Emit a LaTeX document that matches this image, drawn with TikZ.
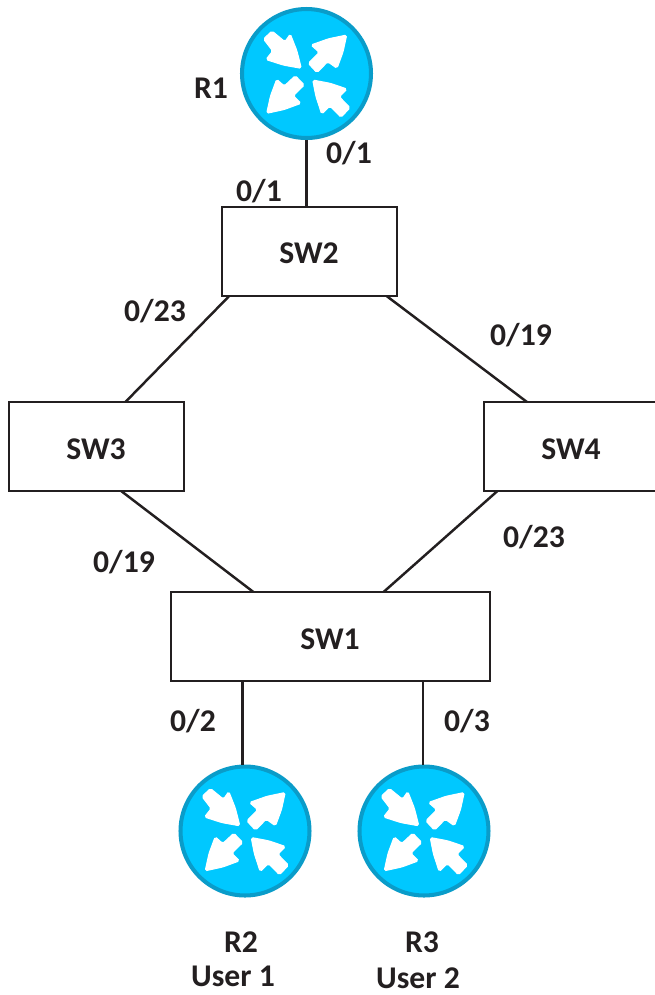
\documentclass[tikz,border=0pt]{standalone}
\usepackage{fontspec}
\setmainfont{Carlito}
\usepackage{xcolor}
\definecolor{routerfill}{HTML}{00C8FF}
\definecolor{routerline}{HTML}{0A9CC9}
\definecolor{labeltext}{HTML}{231F20}
\tikzset{
  switchbox/.style={draw=labeltext, line width=1.4pt, fill=white, inner sep=0pt, outer sep=0pt, minimum height=1.78cm},
  routernode/.style={circle, draw=routerline, fill=routerfill, line width=2.3pt, minimum size=2.58cm, inner sep=0pt, outer sep=1pt},
  portlabel/.style={font=\fontsize{18}{20}\bfseries, text=labeltext, inner sep=0pt},
  link/.style={draw=labeltext, line width=1.4pt},
  routerarrow/.style={fill=white, draw=white, line width=0.6pt, rounded corners=1pt},
  routericon/.pic={
    \filldraw[routerarrow] (-5.2,-5.2) -- (-9.6,-22.7) -- (-16.2,-39.5) -- (-21.5,-31.8) -- (-34.5,-42.5) -- (-43,-34.5) -- (-33.8,-22.5) -- (-40.5,-14) -- (-23.1,-8.4) -- cycle;
    \filldraw[routerarrow] (40.2,-38.5) -- (36.5,-21.5) -- (30.5,-5.2) -- (21.2,-11.8) -- (10.5,-0.8) -- (1.8,-10.2) -- (12.8,-21.2) -- (4.5,-28.5) -- (22,-34.7) -- cycle;
    \filldraw[routerarrow] (-39.8,39.8) -- (-36,22.5) -- (-29.8,5.8) -- (-22.2,12.5) -- (-11.2,2.2) -- (-2.2,11.5) -- (-13.2,22.2) -- (-5.5,29.8) -- (-22.3,36) -- cycle;
    \filldraw[routerarrow] (6.2,6.5) -- (23.7,9.8) -- (40.5,15.5) -- (32.8,23.2) -- (43.5,34.2) -- (34.5,43.8) -- (23.5,32.5) -- (15.2,40.5) -- (9.5,23.2) -- cycle;
  }
}
\begin{document}
\begin{tikzpicture}[x=0.02cm, y=-0.02cm]
  \useasboundingbox (0,0) rectangle (655,995);
  % routers
  \node[routernode] (r1) at (306.5,73.5) {};
  \node[routernode] (r2) at (245,831) {};
  \node[routernode] (r3) at (424,831) {};
  \pic at (r1) {routericon};
  \pic at (r2) {routericon};
  \pic at (r3) {routericon};
  % switches
  \node[switchbox, minimum width=3.5cm] (sw2) at (309.5,251.5) {};
  \node[switchbox, minimum width=3.5cm] (sw3) at (96.5,446.5) {};
  \node[switchbox, minimum width=3.5cm] (sw4) at (571.5,446.5) {};
  \node[switchbox, minimum width=6.38cm] (sw1) at (330.5,636.5) {};
  % links
  \draw[link] (r1.south) -- (r1.south |- sw2.north);
  \draw[link] (sw2.209) -- (sw3.57.4);
  \draw[link] (sw2.330.5) -- (sw4.135);
  \draw[link] (sw3.299.8) -- (sw1.150.1);
  \draw[link] (sw4.211.9) -- (sw1.40.3);
  \draw[link] (r2.92 |- sw1.south) -- (r2.92);
  \draw[link] (r3.91 |- sw1.south) -- (r3.91);
  % names
  \node[portlabel] (r1name) at (211,88) {R1};
  \node[portlabel] (sw2name) at (309,253) {SW2};
  \node[portlabel] (sw3name) at (96,449) {SW3};
  \node[portlabel] (sw4name) at (571,449) {SW4};
  \node[portlabel] (sw1name) at (330,639) {SW1};
  \node[portlabel] (r2name) at (241,942) {R2};
  \node[portlabel] (r2user) at (233,976) {User 1};
  \node[portlabel] (r3name) at (422,942) {R3};
  \node[portlabel] (r3user) at (418,978) {User 2};
  % ports
  \node[portlabel] (p1) at (349,153) {0/1};
  \node[portlabel] (p2) at (259,191) {0/1};
  \node[portlabel] (p3) at (155,311) {0/23};
  \node[portlabel] (p4) at (521,335) {0/19};
  \node[portlabel] (p5) at (124,562) {0/19};
  \node[portlabel] (p6) at (534,537) {0/23};
  \node[portlabel] (p7) at (193,721) {0/2};
  \node[portlabel] (p8) at (467,721) {0/3};
\end{tikzpicture}
\end{document}
